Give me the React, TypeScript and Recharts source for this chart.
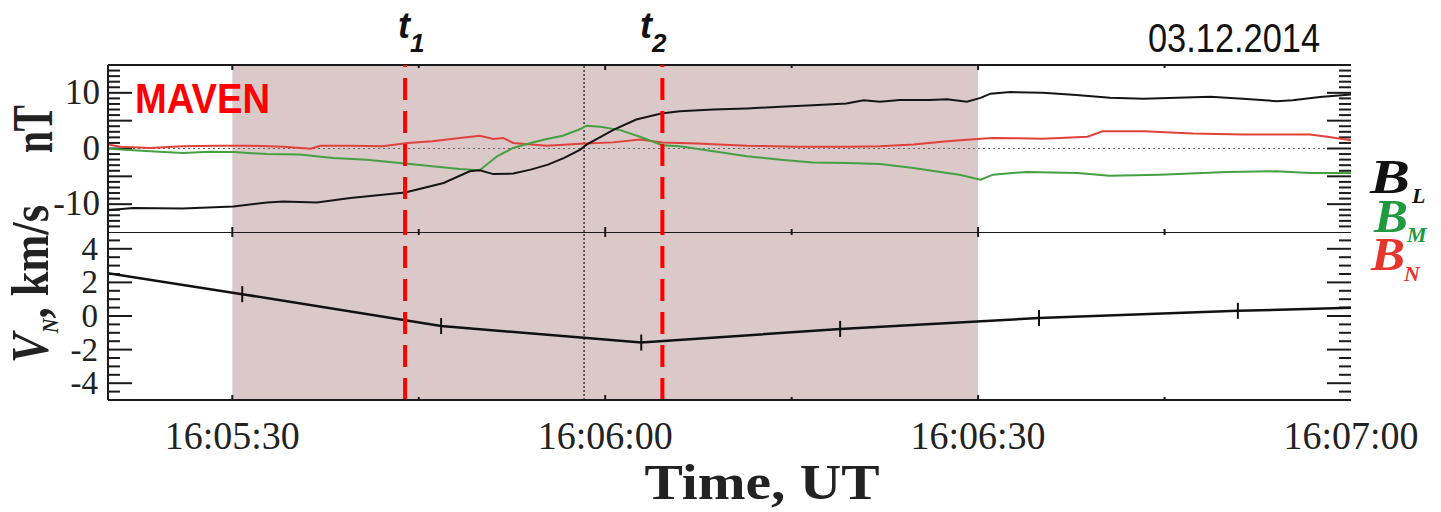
import { Line, LineChart, ReferenceArea, ReferenceLine, XAxis, YAxis } from 'recharts'

// time is counted in seconds after 16:05:20 UT
const timeTicks = [10, 40, 70, 100]
const timeLabels = ['16:05:30', '16:06:00', '16:06:30', '16:07:00']
const minorTimeTicks = [25, 55, 85]

const shadeStart = 10
const shadeEnd = 70
const t1Time = 23.9
const t2Time = 44.6
const crossTime = 38.3

const bLabelTicks = [-10, 0, 10]
const vLabelTicks = [-4, -2, 0, 2, 4]

// B_L, nT
const blTime = [0, 2.0, 6.0, 10.1, 12.8, 14.1, 16.8, 19.5, 22.1, 23.9, 24.8, 27.0, 29.1, 29.9, 31.0, 32.6, 34.0, 35.4, 36.7, 38.0, 38.5, 40.7, 42.5, 44.5, 46.0, 48.7, 51.4, 54.1, 56.7, 59.4, 60.8, 62.1, 63.7, 66.1, 67.5, 69.1, 70.2, 71.0, 72.6, 75.2, 77.9, 80.6, 83.3, 86.0, 88.7, 91.3, 94.0, 95.3, 97.5, 100]
const blValues = [-11.1, -10.7, -10.8, -10.4, -9.7, -9.5, -9.7, -8.9, -8.3, -7.9, -7.4, -6.2, -4.1, -3.9, -4.6, -4.5, -3.8, -2.9, -1.7, -0.2, 0.7, 3.4, 5.2, 6.3, 6.7, 7.0, 7.2, 7.5, 7.75, 8.1, 8.65, 8.4, 8.7, 8.7, 8.85, 8.4, 9.1, 9.85, 10.15, 10.0, 9.6, 9.1, 8.95, 9.1, 9.3, 8.95, 8.5, 8.65, 9.25, 9.7]

// B_M, nT
const bmTime = [0, 3.4, 6.0, 8.2, 10.1, 12.8, 15.4, 18.1, 20.8, 23.5, 26.1, 28.3, 29.9, 31.3, 32.6, 34.0, 35.3, 36.6, 38.0, 38.5, 39.6, 41.2, 42.8, 44.6, 46.0, 48.7, 51.4, 54.1, 56.7, 59.5, 62.1, 64.8, 67.5, 68.5, 70.2, 71.2, 73.9, 78.0, 80.6, 84.6, 90.0, 94.0, 96.7, 100]
const bmValues = [-0.05, -0.5, -0.8, -0.6, -0.65, -1.0, -1.1, -1.7, -2.0, -2.6, -3.2, -3.7, -3.9, -1.4, 0.1, 1.0, 1.7, 2.3, 3.5, 4.1, 3.9, 3.3, 2.1, 0.6, 0.4, -0.5, -1.4, -2.0, -2.5, -2.6, -2.8, -3.5, -4.4, -4.7, -5.6, -4.7, -4.2, -4.4, -4.9, -4.7, -4.2, -4.1, -4.4, -4.4]

// B_N, nT
const bnTime = [0, 1.0, 3.4, 6.0, 8.8, 11.4, 14.1, 16.3, 17.1, 19.5, 22.1, 24.1, 26.1, 28.3, 29.9, 31.0, 31.8, 32.6, 35.3, 38.0, 40.6, 42.8, 44.6, 47.4, 51.4, 55.4, 59.5, 62.1, 64.8, 67.5, 70.2, 71.2, 75.2, 78.8, 80.0, 83.3, 87.3, 91.3, 96.7, 98.1, 100]
const bnValues = [0.7, 0.3, 0.1, 0.4, 0.5, 0.5, 0.3, -0.05, 0.5, 0.5, 0.4, 1.0, 1.3, 1.9, 2.3, 1.7, 1.9, 1.0, 0.5, 0.85, 1.1, 1.6, 1.1, 0.9, 0.5, 0.3, 0.3, 0.4, 0.7, 1.3, 1.75, 1.9, 1.75, 2.1, 3.1, 3.1, 2.7, 2.5, 2.5, 2.1, 1.5]

// V_N, km/s
const vnTime = [0, 10.8, 26.8, 42.9, 58.9, 74.9, 90.9, 100]
const vnValues = [2.55, 1.3, -0.6, -1.58, -0.77, -0.12, 0.31, 0.49]

const toRows = (ts: number[], vs: number[]) => ts.map((t, i) => ({ t, v: vs[i] }))
const blData = toRows(blTime, blValues)
const bmData = toRows(bmTime, bmValues)
const bnData = toRows(bnTime, bnValues)
const vnData = toRows(vnTime, vnValues)

const range = (a: number, b: number, step: number) => {
    const out: number[] = []
    for (let v = a; v <= b + 1e-9; v += step) out.push(Math.round(v * 100) / 100)
    return out
}

const W = 1441
const SERIF = '"Liberation Serif", "Times New Roman", serif'
const SANS = '"Liberation Sans", Arial, sans-serif'
const FRAME = '#1a1a1a'

const X_MIN = 0
const X_MAX = 100
const SEC_PER_PX = 100 / 1243

const allTimeTicks = [...timeTicks, ...minorTimeTicks].sort((a, b) => a - b)

// inward tick marks on left/right frame and top/bottom edges of a panel
const frameTicks = (yTicks: number[], longStep: number, yMin: number, yMax: number, unitPerPx: number, key: string) => {
    const out: any[] = []
    yTicks.forEach((v) => {
        if (v <= yMin || v >= yMax) return
        const isLong = Math.abs(v / longStep - Math.round(v / longStep)) < 1e-6
        const len = (isLong ? 24 : 12) * SEC_PER_PX
        out.push(<ReferenceLine key={`${key}l${v}`} segment={[{ x: X_MIN, y: v }, { x: X_MIN + len, y: v }]} stroke={FRAME} strokeWidth={2} />)
        out.push(<ReferenceLine key={`${key}r${v}`} segment={[{ x: X_MAX - len, y: v }, { x: X_MAX, y: v }]} stroke={FRAME} strokeWidth={2} />)
    })
    allTimeTicks.forEach((t) => {
        if (t >= X_MAX) return
        const h = (timeTicks.includes(t) ? 5 : 3) * unitPerPx
        out.push(<ReferenceLine key={`${key}t${t}`} segment={[{ x: t, y: yMax - h }, { x: t, y: yMax }]} stroke={FRAME} strokeWidth={2} />)
        out.push(<ReferenceLine key={`${key}b${t}`} segment={[{ x: t, y: yMin }, { x: t, y: yMin + h }]} stroke={FRAME} strokeWidth={2} />)
    })
    return out
}

const makeYLabel = (labels: number[], fontSize: number, labelRight: number) => (props: any) => {
    const y = Number(props.y)
    const v = props.payload.value
    if (!labels.includes(v)) return <g />
    return (
        <text x={labelRight} y={y + 11} textAnchor="end" fontFamily={SERIF} fontSize={fontSize} fill="#222" stroke="none">
            {v}
        </text>
    )
}

const xLabel = (props: any) => {
    const { x, y, payload } = props
    const idx = timeTicks.indexOf(payload.value)
    if (idx < 0) return <g />
    return (
        <text x={x} y={y + 49} textAnchor="middle" fontFamily={SERIF} fontSize={41} textLength={135} lengthAdjust="spacingAndGlyphs" fill="#222">
            {timeLabels[idx]}
        </text>
    )
}

const vnDot = (p: any) => {
    if (p.index === 0 || p.index === vnData.length - 1) return <g key={`d${p.index}`} />
    return <line key={`d${p.index}`} x1={p.cx} y1={p.cy - 8} x2={p.cx} y2={p.cy + 8} stroke="#111" strokeWidth={2} />
}

const App = () => {
    return (
        <div style={{ position: 'absolute', left: 0, top: 0, width: W, height: 512, background: '#fff' }}>
            <div style={{ position: 'absolute', left: 0, top: 0 }}>
                <LineChart width={W} height={232} margin={{ top: 65, right: 90, bottom: 0, left: 48 }}>
                    <XAxis dataKey="t" type="number" domain={[X_MIN, X_MAX]} ticks={allTimeTicks} interval={0} height={0} tickLine={false} tick={false} axisLine={{ stroke: FRAME, strokeWidth: 2 }} allowDataOverflow />
                    <YAxis domain={[-15, 15]} ticks={bLabelTicks} interval={0} width={60} tickSize={0} tickMargin={0} tickLine={false} axisLine={{ stroke: FRAME, strokeWidth: 2 }} tick={makeYLabel(bLabelTicks, 35, 100)} allowDataOverflow />
                    <YAxis yAxisId="r" orientation="right" domain={[-15, 15]} width={0} tick={false} tickLine={false} axisLine={{ stroke: FRAME, strokeWidth: 2 }} />
                    <ReferenceArea x1={shadeStart} x2={shadeEnd} y1={-15} y2={15} fill="#dbc9c9" fillOpacity={1} stroke="none" />
                    <ReferenceLine y={15} stroke={FRAME} strokeWidth={2} />
                    <ReferenceLine y={0} stroke="#666" strokeWidth={1} strokeDasharray="2 3" />
                    <ReferenceLine x={crossTime} stroke="#111" strokeWidth={1.2} strokeDasharray="2 2" />
                    {frameTicks(range(-15, 15, 1), 5, -15, 15, 30 / 167, 'top')}
                    <Line data={bnData} dataKey="v" stroke="#e0413a" strokeWidth={2} dot={false} isAnimationActive={false} />
                    <Line data={bmData} dataKey="v" stroke="#45a041" strokeWidth={2} dot={false} isAnimationActive={false} />
                    <Line data={blData} dataKey="v" stroke="#151515" strokeWidth={2} dot={false} isAnimationActive={false} />
                    <ReferenceLine x={t1Time} stroke="#ff0000" strokeWidth={4} strokeDasharray="22 11" />
                    <ReferenceLine x={t2Time} stroke="#ff0000" strokeWidth={4} strokeDasharray="22 11" />
                </LineChart>
            </div>
            <div style={{ position: 'absolute', left: 0, top: 232 }}>
                <LineChart width={W} height={280} margin={{ top: 0, right: 90, bottom: 0, left: 48 }}>
                    <XAxis dataKey="t" type="number" domain={[X_MIN, X_MAX]} ticks={timeTicks} interval={0} height={112} tickSize={0} tickMargin={0} tickLine={false} axisLine={{ stroke: FRAME, strokeWidth: 2 }} tick={xLabel} allowDataOverflow />
                    <YAxis domain={[-5, 5]} ticks={vLabelTicks} interval={0} width={60} tickSize={0} tickMargin={0} tickLine={false} axisLine={{ stroke: FRAME, strokeWidth: 2 }} tick={makeYLabel(vLabelTicks, 33, 98)} allowDataOverflow />
                    <YAxis yAxisId="r" orientation="right" domain={[-5, 5]} width={0} tick={false} tickLine={false} axisLine={{ stroke: FRAME, strokeWidth: 2 }} />
                    <ReferenceArea x1={shadeStart} x2={shadeEnd} y1={-5} y2={5} fill="#dbc9c9" fillOpacity={1} stroke="none" />
                    <ReferenceLine y={5} stroke={FRAME} strokeWidth={2} />
                    <ReferenceLine x={crossTime} stroke="#111" strokeWidth={1.2} strokeDasharray="2 2" />
                    {frameTicks(range(-5, 5, 0.5), 2, -5, 5, 10 / 168, 'bot')}
                    <Line data={vnData} dataKey="v" stroke="#111" strokeWidth={2.5} dot={vnDot} isAnimationActive={false} />
                    <ReferenceLine x={t1Time} stroke="#ff0000" strokeWidth={4} strokeDasharray="22 11" />
                    <ReferenceLine x={t2Time} stroke="#ff0000" strokeWidth={4} strokeDasharray="22 11" />
                </LineChart>
            </div>
            <svg width={W} height={512} style={{ position: 'absolute', left: 0, top: 0, pointerEvents: 'none' }}>
                <text x={398} y={38} fontFamily={SANS} fontWeight="bold" fontStyle="italic" fontSize={36} fill="#111">
                    t<tspan dy={14} fontSize={26}>1</tspan>
                </text>
                <text x={640} y={38} fontFamily={SANS} fontWeight="bold" fontStyle="italic" fontSize={36} fill="#111">
                    t<tspan dy={14} fontSize={26}>2</tspan>
                </text>
                <text x={1148} y={52} fontFamily={SANS} fontSize={40} textLength={172} lengthAdjust="spacingAndGlyphs" fill="#111">
                    03.12.2014
                </text>
                <text x={135} y={113} fontFamily={SANS} fontWeight="bold" fontSize={43} textLength={135} lengthAdjust="spacingAndGlyphs" fill="#ff0000">
                    MAVEN
                </text>
                <text transform="translate(52,153) rotate(-90)" fontFamily={SERIF} fontWeight="bold" fontSize={56} textLength={48} lengthAdjust="spacingAndGlyphs" fill="#222">
                    nT
                </text>
                <text transform="translate(48,363) rotate(-90)" fontFamily={SERIF} fontWeight="bold" fontSize={52} textLength={158} lengthAdjust="spacingAndGlyphs" fill="#222">
                    <tspan fontStyle="italic">V</tspan>
                    <tspan fontStyle="italic" fontSize={24} dy={10}>N</tspan>
                    <tspan dy={-10}>, km/s</tspan>
                </text>
                <text x={762} y={499} textAnchor="middle" fontFamily={SERIF} fontWeight="bold" fontSize={50} textLength={235} lengthAdjust="spacingAndGlyphs" fill="#222">
                    Time, UT
                </text>
                <text x={1370} y={193} fontFamily={SERIF} fontWeight="bold" fontStyle="italic" fontSize={48} textLength={40} lengthAdjust="spacingAndGlyphs" fill="#111">B</text>
                <text x={1412} y={203} fontFamily={SERIF} fontWeight="bold" fontStyle="italic" fontSize={22} fill="#111">L</text>
                <text x={1374} y={232} fontFamily={SERIF} fontWeight="bold" fontStyle="italic" fontSize={46} textLength={34} lengthAdjust="spacingAndGlyphs" fill="#1f9a3f">B</text>
                <text x={1407} y={242} fontFamily={SERIF} fontWeight="bold" fontStyle="italic" fontSize={22} fill="#1f9a3f">M</text>
                <text x={1371} y={270} fontFamily={SERIF} fontWeight="bold" fontStyle="italic" fontSize={46} textLength={34} lengthAdjust="spacingAndGlyphs" fill="#e5352c">B</text>
                <text x={1404} y={281} fontFamily={SERIF} fontWeight="bold" fontStyle="italic" fontSize={22} fill="#e5352c">N</text>
            </svg>
        </div>
    )
}

export default App
